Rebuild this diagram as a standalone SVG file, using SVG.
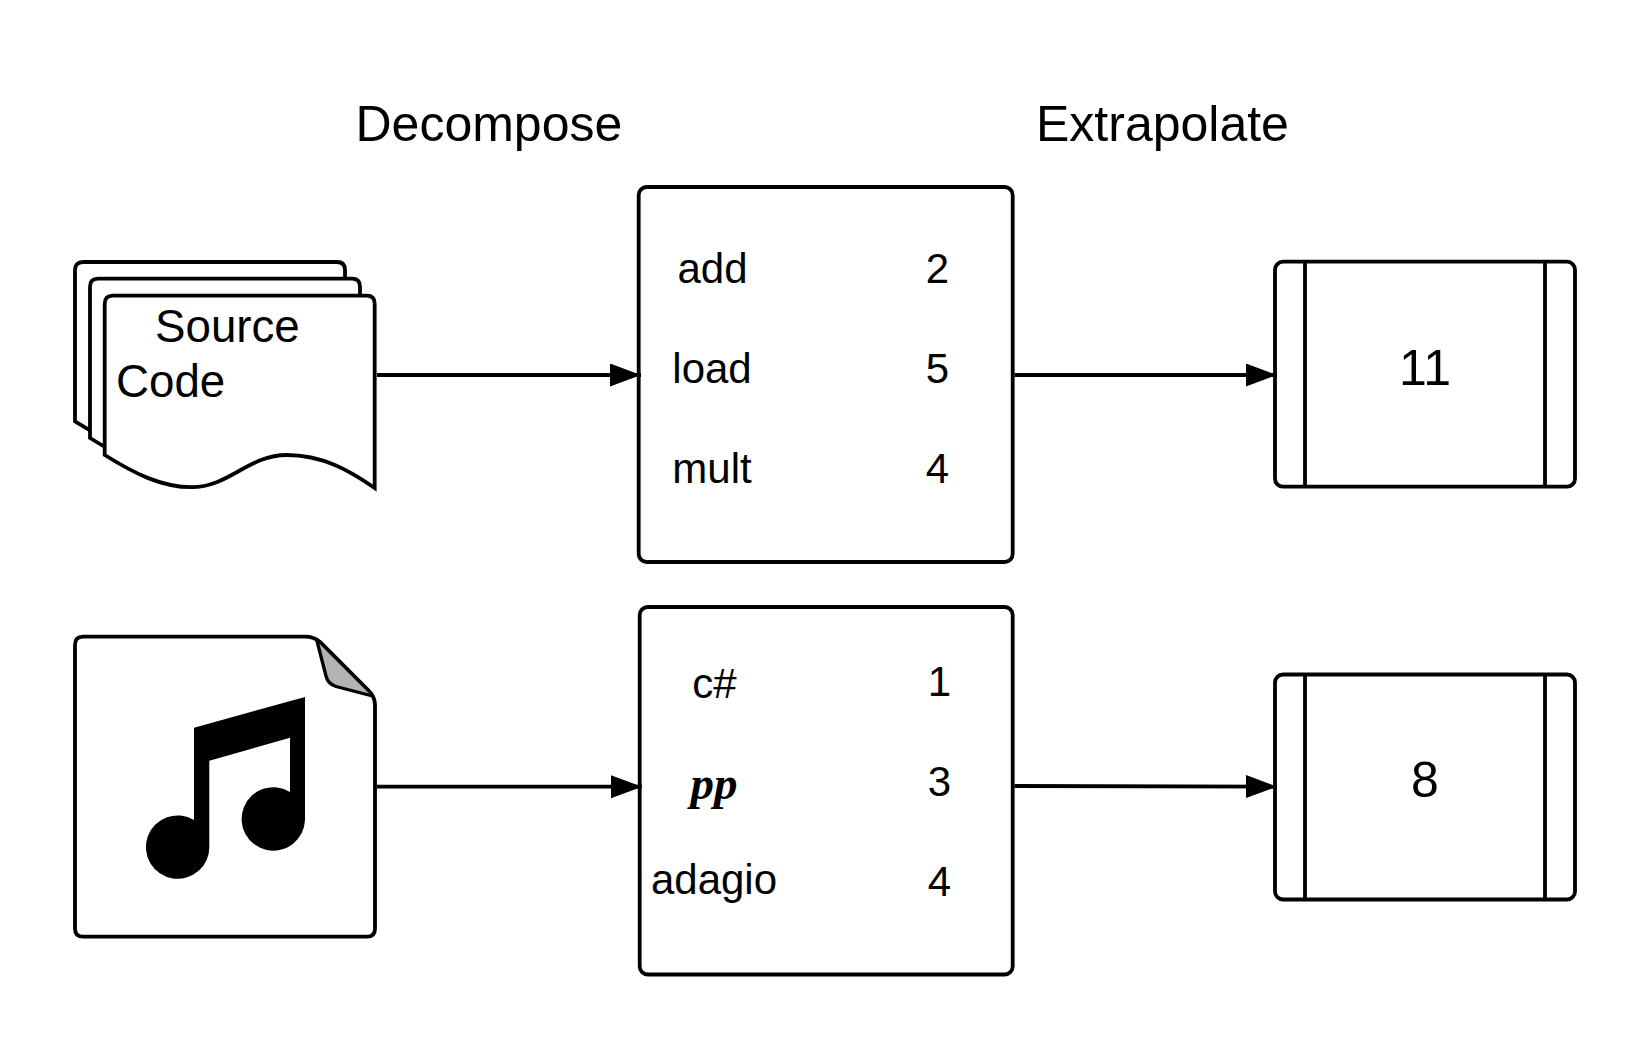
<svg xmlns="http://www.w3.org/2000/svg" width="1650" height="1050" viewBox="0 0 1650 1050">
<style>
text { font-family: "Liberation Sans", Arial, sans-serif; fill: #000; }
.t50 { font-size: 50px; }
.t46 { font-size: 45.7px; }
.t42 { font-size: 42px; text-anchor: middle; }
.num { font-size: 50px; text-anchor: middle; }
.pp { font-family: "Liberation Serif", "Times New Roman", serif; font-size: 47px; font-weight: bold; font-style: italic; text-anchor: middle; }
.box { fill: #fff; stroke: #000; stroke-width: 3.8; }
.edge { fill: none; stroke: #000; stroke-width: 3.8; marker-end: url(#arrow); }
</style>
<defs>
<marker id="arrow" markerUnits="userSpaceOnUse" markerWidth="32" markerHeight="24" refX="31" refY="11.5" orient="auto">
<path d="M0 0 L31 11.5 L0 23 Z" fill="#000"/>
</marker>
<path id="page" class="box" d="M0 159.3 V8 Q0 0 8 0 H262 Q270 0 270 8 V192.3 C245 175 218 159.3 182 159.3 C144 159.3 124 191.5 87 191.5 C57 191.5 30 178 0 159.3 Z"/>
</defs>
<rect width="1650" height="1050" fill="#fff"/>

<g id="titles">
<text id="title-decompose" class="t50" x="355.5" y="140.8">Decompose</text>
<text id="title-extrapolate" class="t50" x="1036" y="140.8">Extrapolate</text>
</g>

<g id="source-code">
<use href="#page" x="75" y="262"/>
<use href="#page" x="90" y="278.7"/>
<use href="#page" x="104.7" y="295.7"/>
<text class="t46" x="155" y="341.8">Source</text>
<text class="t46" x="116" y="396.8">Code</text>
</g>

<g id="audio-file">
<path class="box" d="M75 645 Q75 636.7 83 636.7 H305 Q314 636.7 320 642 L369 691 Q375 697 375 705 V928.7 Q375 936.7 367 936.7 H83 Q75 936.7 75 928.7 Z"/>
<path d="M317 641 L326 676 Q328 684 336 686.5 L372.5 696 Q372 693 369 691 L320 642 Q319 641.5 317 641 Z" fill="#b3b3b3" stroke="#000" stroke-width="3.3" stroke-linejoin="round"/>
<path d="M194 727.7 L305 697 V820 A31.7 31.7 0 1 1 290 792 V737.7 L209.3 760.7 V846 A31.7 31.7 0 1 1 194 820 Z" fill="#000"/>
</g>

<g id="table-code">
<rect class="box" x="638.7" y="187" width="374" height="375" rx="8"/>
<text class="t42" x="712.5" y="283.2">add</text>
<text class="t42" x="712" y="382.5">load</text>
<text class="t42" x="712" y="482.5">mult</text>
<text class="t42" x="937.5" y="283.2">2</text>
<text class="t42" x="937.5" y="382.5">5</text>
<text class="t42" x="937.5" y="482.5">4</text>
</g>

<g id="table-music">
<rect class="box" x="639.7" y="607" width="373" height="367.5" rx="8"/>
<text class="t42" x="714.5" y="697.5">c#</text>
<text class="pp" x="714" y="799">pp</text>
<text class="t42" x="714" y="893.5">adagio</text>
<text class="t42" x="939.5" y="695.5">1</text>
<text class="t42" x="939.5" y="795.5">3</text>
<text class="t42" x="939.5" y="895.5">4</text>
</g>

<g id="result-code">
<rect class="box" x="1275" y="261.7" width="300" height="225" rx="8"/>
<path class="box" d="M1305 261.7 V486.7 M1545 261.7 V486.7"/>
<text class="num" x="1425" y="384.8">11</text>
</g>

<g id="result-music">
<rect class="box" x="1275" y="674.5" width="300" height="225" rx="8"/>
<path class="box" d="M1305 674.5 V899.5 M1545 674.5 V899.5"/>
<text class="num" x="1425" y="797">8</text>
</g>

<g id="connectors">
<path class="edge" d="M377 375 H641"/>
<path class="edge" d="M1014.5 375 H1277"/>
<path class="edge" d="M377 786.7 H642"/>
<path class="edge" d="M1014.5 786 L1277 786.7"/>
</g>
</svg>
